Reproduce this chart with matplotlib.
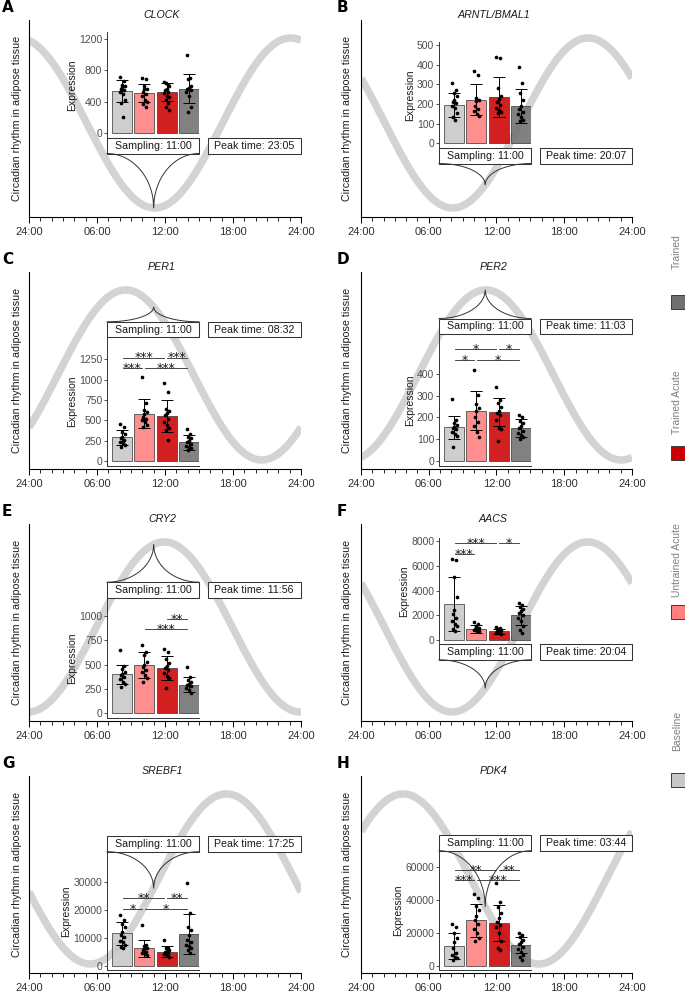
import numpy as np
import matplotlib
matplotlib.use("Agg")
import matplotlib.pyplot as plt
from matplotlib.patches import Rectangle
from matplotlib.lines import Line2D

plt.rcParams['font.family'] = ['Liberation Sans', 'DejaVu Sans']

# ---------------- data ----------------
groups = ["Baseline", "Untrained Acute", "Trained Acute", "Trained"]
genes = ["CLOCK", "ARNTL/BMAL1", "PER1", "PER2", "CRY2", "AACS", "SREBF1", "PDK4"]
panel_letters = ["A", "B", "C", "D", "E", "F", "G", "H"]
peak_times = ["23:05", "20:07", "08:32", "11:03", "11:56", "20:04", "17:25", "03:44"]
sampling_time = "11:00"
hour_ticks = [0, 6, 12, 18, 24]
hour_labels = ["24:00", "06:00", "12:00", "18:00", "24:00"]

clock_mean = [540, 515, 525, 565]
clock_sd = [140, 115, 110, 185]
clock_points = [[720, 660, 620, 600, 590, 560, 550, 520, 500, 430, 380, 210],
                [700, 690, 600, 560, 560, 530, 500, 470, 430, 400, 370, 340],
                [650, 620, 640, 600, 570, 550, 530, 510, 480, 460, 420, 380, 330, 300],
                [1000, 710, 690, 600, 580, 560, 550, 520, 480, 340, 270]]
clock_sig = []
clock_ticks = [0, 400, 800, 1200]

bmal1_mean = [195, 222, 235, 190]
bmal1_sd = [63, 78, 100, 85]
bmal1_points = [[305, 270, 255, 240, 220, 210, 205, 190, 180, 155, 135, 120],
                [370, 350, 230, 220, 215, 190, 175, 165, 150, 140],
                [440, 432, 280, 240, 225, 210, 195, 180, 170, 160, 155],
                [390, 305, 255, 220, 190, 175, 160, 150, 135, 120, 115]]
bmal1_sig = []
bmal1_ticks = [0, 100, 200, 300, 400, 500]

per1_mean = [290, 580, 550, 230]
per1_sd = [90, 180, 195, 90]
per1_points = [[455, 420, 360, 330, 300, 280, 260, 240, 220, 200, 175],
               [1035, 710, 630, 600, 580, 545, 520, 500, 480, 445, 420],
               [965, 845, 640, 620, 590, 560, 520, 480, 440, 400, 380, 260],
               [395, 330, 300, 280, 250, 230, 210, 190, 175, 160, 140]]
per1_sig = [(1, 3, "***", 1270), (3, 4, "***", 1270), (1, 2, "***", 1144), (2, 4, "***", 1144)]
per1_ticks = [0, 250, 500, 750, 1000, 1250]

per2_mean = [155, 232, 225, 152]
per2_sd = [53, 88, 63, 40]
per2_points = [[283, 190, 175, 165, 155, 150, 145, 135, 125, 115, 65],
               [418, 305, 260, 245, 230, 200, 180, 160, 135, 112],
               [338, 280, 265, 250, 230, 220, 210, 190, 150, 145, 92],
               [210, 200, 185, 175, 160, 150, 140, 130, 120, 110, 100]]
per2_sig = [(1, 3, "*", 515), (3, 4, "*", 515), (1, 2, "*", 463), (2, 4, "*", 463)]
per2_ticks = [0, 100, 200, 300, 400]

cry2_mean = [400, 495, 465, 295]
cry2_sd = [100, 135, 120, 80]
cry2_points = [[645, 480, 450, 420, 400, 390, 370, 350, 320, 300, 275],
               [705, 630, 600, 530, 500, 470, 445, 420, 390, 360, 325],
               [655, 630, 560, 520, 490, 460, 440, 410, 380, 360, 255],
               [475, 375, 340, 320, 300, 290, 280, 260, 240, 210]]
cry2_sig = [(3, 4, "**", 966), (2, 4, "***", 861)]
cry2_ticks = [0, 250, 500, 750, 1000]

aacs_mean = [2900, 900, 700, 2000]
aacs_sd = [2200, 300, 200, 750]
aacs_points = [[6550, 6450, 5100, 3450, 2400, 2100, 1800, 1500, 1300, 1100, 900, 750],
               [1450, 1300, 1150, 1000, 950, 900, 850, 800, 750, 700],
               [1050, 1000, 900, 800, 750, 700, 650, 600, 550, 500],
               [2950, 2800, 2650, 2500, 2350, 2200, 2000, 1800, 1500, 1100, 800, 600]]
aacs_sig = [(1, 3, "***", 7838), (3, 4, "*", 7838), (1, 2, "***", 6950)]
aacs_ticks = [0, 2000, 4000, 6000, 8000]

srebf1_mean = [11600, 6300, 5000, 11400]
srebf1_sd = [4200, 3100, 2000, 7100]
srebf1_points = [[18300, 16300, 15100, 13900, 12100, 11000, 10300, 9000, 8500, 7400, 6900, 6500],
                 [14500, 7400, 7000, 6500, 6000, 5500, 5000, 4500, 4200, 3800],
                 [9400, 6500, 6200, 5800, 5400, 5000, 4600, 4200, 3800, 3200],
                 [29600, 19000, 13900, 12700, 11000, 9200, 8500, 7600, 7000, 6200, 5500, 4400]]
srebf1_sig = [(1, 3, "**", 24240), (3, 4, "**", 24240), (1, 2, "*", 20290), (2, 4, "*", 20290)]
srebf1_ticks = [0, 10000, 20000, 30000]

pdk4_mean = [12000, 27500, 26000, 12500]
pdk4_sd = [8000, 10000, 11000, 5000]
pdk4_points = [[25000, 23600, 19600, 16500, 14500, 10500, 7500, 6500, 5500, 4400, 3500],
               [43400, 40800, 36000, 33700, 30000, 28000, 25000, 22000, 19600, 17000, 15000],
               [49900, 38800, 35800, 31700, 29000, 26700, 24500, 23600, 19600, 15000, 10500, 9500],
               [19600, 18500, 17500, 15500, 14500, 13000, 11500, 10000, 8500, 6500, 5500, 3500]]
pdk4_sig = [(1, 3, "**", 58000), (3, 4, "**", 58000), (1, 2, "***", 51940), (2, 4, "***", 51940)]
pdk4_ticks = [0, 20000, 40000, 60000]

all_means = [clock_mean, bmal1_mean, per1_mean, per2_mean, cry2_mean, aacs_mean, srebf1_mean, pdk4_mean]
all_sd = [clock_sd, bmal1_sd, per1_sd, per2_sd, cry2_sd, aacs_sd, srebf1_sd, pdk4_sd]
all_points = [clock_points, bmal1_points, per1_points, per2_points, cry2_points, aacs_points,
              srebf1_points, pdk4_points]
all_sig = [clock_sig, bmal1_sig, per1_sig, per2_sig, cry2_sig, aacs_sig, srebf1_sig, pdk4_sig]
all_ticks = [clock_ticks, bmal1_ticks, per1_ticks, per2_ticks, cry2_ticks, aacs_ticks,
             srebf1_ticks, pdk4_ticks]

# ---------------- style / layout ----------------
group_colors = ["#c8c8c8", "#ff7f7f", "#cc0000", "#707070"]
W, H = 685, 993
# inset layout per panel: top px, bottom px (relative to axis top), ylim, box below?
inset_layout = [
    (11.7, 118.0, (-60, 1293), True),
    (21.7, 128.0, (-24, 517), True),
    (65.3, 193.5, (-55, 1521), False),
    (62.0, 193.5, (-21, 584), False),
    (73.7, 194.0, (-47, 1184), False),
    (14.0, 120.3, (-347, 8242), True),
    (75.7, 194.0, (-1547, 41000), False),
    (74.7, 194.0, (-2600, 69700), False),
]
BOX_H = 15.5
jitter = [-0.10, 0.06, -0.03, 0.10, 0.0, -0.07, 0.08, -0.12, 0.03, 0.12, -0.05, 0.05, -0.01, 0.09]

fig = plt.figure(figsize=(W / 100, H / 100), dpi=100)


def fx(x):
    return x / W


def fy(y):
    return 1 - y / H


def hm(s):
    h, m = s.split(":")
    return int(h) + int(m) / 60


def add_box(x0, x1, y0, y1, text):
    fig.add_artist(Rectangle((fx(x0), fy(y1)), (x1 - x0) / W, (y1 - y0) / H,
                             transform=fig.transFigure, facecolor="white",
                             edgecolor="#333333", lw=0.75, zorder=5))
    fig.text(fx((x0 + x1) / 2), fy((y0 + y1) / 2), text, ha="center", va="center",
             fontsize=7.7, color="#1a1a1a", zorder=6)


def add_bracket(xl, xr, yedge, xc, yc):
    d = np.linspace(0, 1, 80)
    f = 1 - np.sqrt(1 - d ** 2)
    xs_l = xl + d * (xc - xl)
    xs_r = xr + d * (xc - xr)
    ys = yedge + f * (yc - yedge)
    xs = np.concatenate([xs_l, xs_r[::-1]])
    yy = np.concatenate([ys, ys[::-1]])
    fig.add_artist(Line2D(fx(xs), fy(yy), transform=fig.transFigure, color="#333333",
                          lw=0.7, zorder=5))


samp = hm(sampling_time)

for i, gene in enumerate(genes):
    row, col = divmod(i, 2)
    x0 = 29 if col == 0 else 361
    axw = 272 if col == 0 else 271
    y0 = 20 + 252 * row
    axh = 197

    ax = fig.add_axes([fx(x0), fy(y0 + axh), axw / W, axh / H])
    peak = hm(peak_times[i])
    t = np.linspace(0, 24, 600)
    ax.plot(t, np.cos(2 * np.pi * (t - peak) / 24), color="#d3d3d3", lw=5.4,
            solid_capstyle="butt", zorder=1)
    ax.set_xlim(0, 24)
    ax.set_ylim(-1.106, 1.211)
    for s in ["top", "right"]:
        ax.spines[s].set_visible(False)
    for s in ["left", "bottom"]:
        ax.spines[s].set_color("black")
        ax.spines[s].set_linewidth(0.8)
    ax.set_yticks([])
    ax.set_xticks(hour_ticks)
    ax.set_xticklabels(hour_labels, fontsize=8, color="#303030")
    ax.set_xticks(np.arange(0, 25, 1), minor=True)
    ax.tick_params(axis="x", which="major", length=4.5, width=0.7, pad=3, color="black")
    ax.tick_params(axis="x", which="minor", length=3.2, width=0.6, color="black")
    ax.patch.set_alpha(0)

    fig.text(fx(17 if col == 0 else 347), fy(y0 + axh / 2), "Circadian rhythm in adipose tissue",
             rotation=90, ha="center", va="center", fontsize=7.7, color="#1a1a1a")
    fig.text(fx(x0 + axw / 2 - 3), fy(y0 - 5), gene, ha="center", va="center",
             fontsize=7.7, style="italic", color="#1a1a1a")
    fig.text(fx(x0 - 27 if col == 0 else x0 - 24), fy(y0 - 13), panel_letters[i],
             ha="left", va="center", fontsize=11, fontweight="bold",
             family="DejaVu Sans", color="black")

    # inset
    itop, ibot, ylim, below = inset_layout[i]
    iax = fig.add_axes([fx(x0 + 78), fy(y0 + ibot), 92 / W, (ibot - itop) / H])
    iax.patch.set_alpha(0)
    xpos = np.arange(1, 5)
    iax.bar(xpos, all_means[i], width=0.9, color=group_colors, edgecolor="#3a3a3a",
            lw=0.6, alpha=0.88, zorder=2)
    iax.errorbar(xpos, all_means[i], yerr=all_sd[i], fmt="none", ecolor="black",
                 elinewidth=0.7, capsize=4.2, capthick=0.7, zorder=3)
    for g in range(4):
        pts = all_points[i][g]
        xs = [xpos[g] + jitter[k % len(jitter)] for k in range(len(pts))]
        iax.scatter(xs, pts, s=7, color="black", zorder=4, linewidths=0)
    for (a, b, lab, yv) in all_sig[i]:
        iax.plot([a + 0.02, b - 0.1], [yv, yv], color="#2a2a2a", lw=0.6, zorder=4)
        iax.annotate(lab, ((a + b) / 2 - 0.04, yv), xytext=(0, -2.7), textcoords="offset points",
                     ha="center", va="baseline", fontsize=9, family="DejaVu Sans",
                     color="#1a1a1a", zorder=5)
    iax.set_xlim(0.31, 4.46)
    iax.set_ylim(*ylim)
    iax.set_xticks([])
    iax.set_yticks(all_ticks[i])
    iax.set_yticklabels([str(v) for v in all_ticks[i]], fontsize=7.5, color="#4d4d4d")
    iax.tick_params(axis="y", length=2.2, width=0.6, color="#333333", pad=1.2)
    for s in ["top", "right"]:
        iax.spines[s].set_visible(False)
    for s in ["left", "bottom"]:
        iax.spines[s].set_color("#333333")
        iax.spines[s].set_linewidth(0.7)
    iax.set_ylabel("Expression", fontsize=7.5, labelpad=1.5, color="#1a1a1a")

    # boxes
    if below:
        by0, by1 = y0 + ibot, y0 + ibot + BOX_H
    else:
        by0, by1 = y0 + itop - BOX_H, y0 + itop
    add_box(x0 + 78, x0 + 170, by0, by1, "Sampling: " + sampling_time)
    add_box(x0 + 178.5, x0 + axw, by0, by1, "Peak time: " + peak_times[i])

    # bracket to the curve at sampling time
    disp = ax.transData.transform((samp, np.cos(2 * np.pi * (samp - peak) / 24)))
    xc = disp[0]
    yc = H - disp[1]
    if yc > by1:
        add_bracket(x0 + 78, x0 + 170, by1, xc, yc)
    else:
        add_bracket(x0 + 78, x0 + 170, by0, xc, yc)

# legend
legend_text_y = [731, 560, 402, 252]
legend_key_y = [780, 612, 453, 302]
for g in range(4):
    fig.text(fx(677), fy(legend_text_y[g]), groups[g], rotation=90, ha="center", va="center",
             fontsize=7.5, color="#808080")
    fig.add_artist(Rectangle((fx(671), fy(legend_key_y[g] + 7)), 14 / W, 14 / H,
                             transform=fig.transFigure, facecolor=group_colors[g],
                             edgecolor="#3a3a3a", lw=0.7))

fig.savefig("out.png", dpi=100)
